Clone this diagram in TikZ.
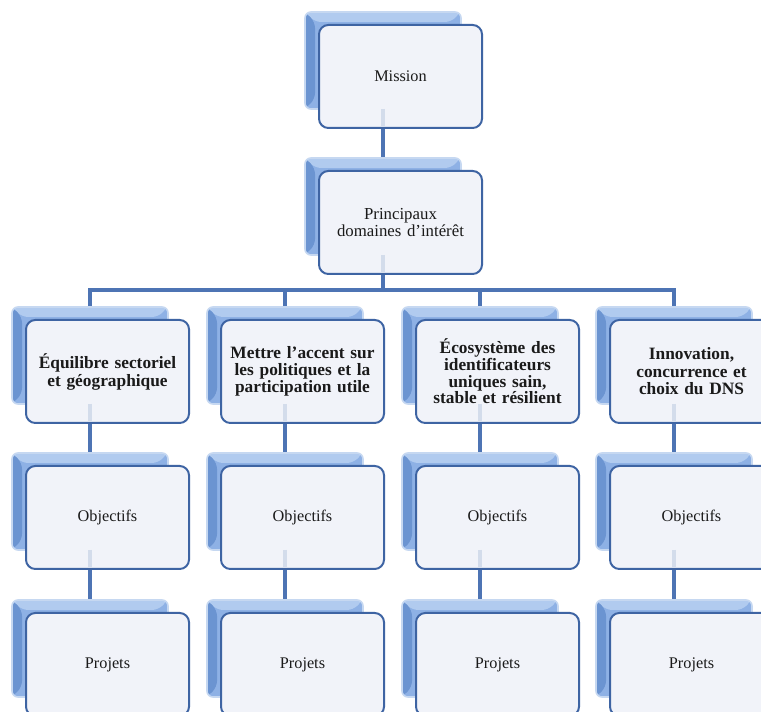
\documentclass[tikz,border=0pt]{standalone}
\usepackage{fontspec}
\setmainfont{Liberation Serif}
\usetikzlibrary{backgrounds}
\definecolor{conn}{HTML}{4D74B4}
\definecolor{faint}{HTML}{D3DCEB}
\definecolor{frontborder}{HTML}{3E64A3}
\definecolor{frontfill}{HTML}{F1F3F9}
\definecolor{backbase}{HTML}{8EB1E5}
\definecolor{backtop}{HTML}{B1CBEF}
\definecolor{backleft}{HTML}{6B94D1}
\definecolor{backglow}{HTML}{C6D8F1}
\definecolor{txt}{HTML}{1A1A1A}
\begin{document}
\begin{tikzpicture}[x=0.75pt,y=-0.75pt,
  connline/.style={draw=conn, line width=3.6pt},
  faintline/.style={draw=faint, line width=3.6pt},
  backbox/.style={rectangle, anchor=north west, inner sep=0pt, outer sep=0pt,
    minimum width=117pt, minimum height=72.75pt, rounded corners=4.5pt,
    fill=backbase, draw=backglow, line width=1.2pt,
    path picture={
      \fill[backtop] (path picture bounding box.north west) -- (path picture bounding box.north east)
        -- ([shift={(-10,10)}]path picture bounding box.north east) -- ([shift={(10,10)}]path picture bounding box.north west) -- cycle;
      \fill[backleft] (path picture bounding box.north west) -- ([shift={(10,10)}]path picture bounding box.north west)
        -- ([shift={(10,-10)}]path picture bounding box.south west) -- (path picture bounding box.south west) -- cycle;
    }},
  frontbox/.style={rectangle, anchor=north west, inner sep=2pt, outer sep=0pt,
    minimum width=122.25pt, minimum height=77.25pt, rounded corners=7pt,
    fill=frontfill, draw=frontborder,
    line width=1.5pt, align=center, text width=116pt, text=txt},
  regtext/.style={font=\fontsize{12.2}{14}\selectfont}
]
\useasboundingbox (0,0) rectangle (761,712);
\clip (0,0) rectangle (761,712);
\coordinate (bus) at (0,290);

% back boxes
\node[backbox] (mB) at (305,12) {};
\node[backbox] (pB) at (305,158) {};
\foreach \i/\x in {1/12,2/207,3/402,4/596}{
  \node[backbox] (c\i B) at (\x,307) {};
  \node[backbox] (o\i B) at (\x,453) {};
  \node[backbox] (p\i B) at (\x,600) {};
}

% connectors
\begin{pgfonlayer}{background}
\fill[white] (0,0) rectangle (761,712);
\draw[connline] (mB.center) -- (pB.center);
\draw[connline] (pB.center) -- (pB.center |- bus);
\draw[connline] (c1B.center) -- (c1B.center |- bus) -- (c4B.center |- bus) -- (c4B.center);
\draw[connline] (c2B.center |- bus) -- (c2B.center);
\draw[connline] (c3B.center |- bus) -- (c3B.center);
\foreach \i in {1,...,4}{
  \draw[connline] (c\i B.center) -- (o\i B.center) -- (p\i B.center);
}
\end{pgfonlayer}

% front boxes
\node[frontbox, regtext] (m) at (319,25) {Mission};
\node[frontbox, font=\fontsize{12.6}{12.3}\selectfont] (p) at (319,171) {Principaux\\domaines d’intérêt};

\node[frontbox, font=\fontsize{13}{13.5}\selectfont\bfseries] (c1) at (26,320) {Équilibre sectoriel\\et géographique};
\node[frontbox, font=\fontsize{13}{12.5}\selectfont\bfseries] (c2) at (221,320) {Mettre l’accent sur\\les politiques et la\\participation utile};
\node[frontbox, font=\fontsize{13}{12.5}\selectfont\bfseries] (c3) at (416,320) {Écosystème des\\identificateurs\\uniques sain,\\stable et résilient};
\node[frontbox, font=\fontsize{13}{13.1}\selectfont\bfseries] (c4) at (610,320) {Innovation,\\concurrence et\\choix du DNS};

\foreach \i/\x in {1/26,2/221,3/416,4/610}{
  \node[frontbox, regtext] (o\i) at (\x,466) {Objectifs};
  \node[frontbox, regtext] (p\i) at (\x,613) {Projets};
}

% faint traces of the connectors seen through the front boxes
\draw[faintline] (mB.center |- mB.south) -- ([yshift=1.5pt]mB.center |- m.south);
\draw[faintline] (pB.center |- pB.south) -- ([yshift=1.5pt]pB.center |- p.south);
\foreach \i in {1,...,4}{
  \draw[faintline] (c\i B.center |- c\i B.south) -- ([yshift=1.5pt]c\i B.center |- c\i.south);
  \draw[faintline] (o\i B.center |- o\i B.south) -- ([yshift=1.5pt]o\i B.center |- o\i.south);
}
\end{tikzpicture}
\end{document}
